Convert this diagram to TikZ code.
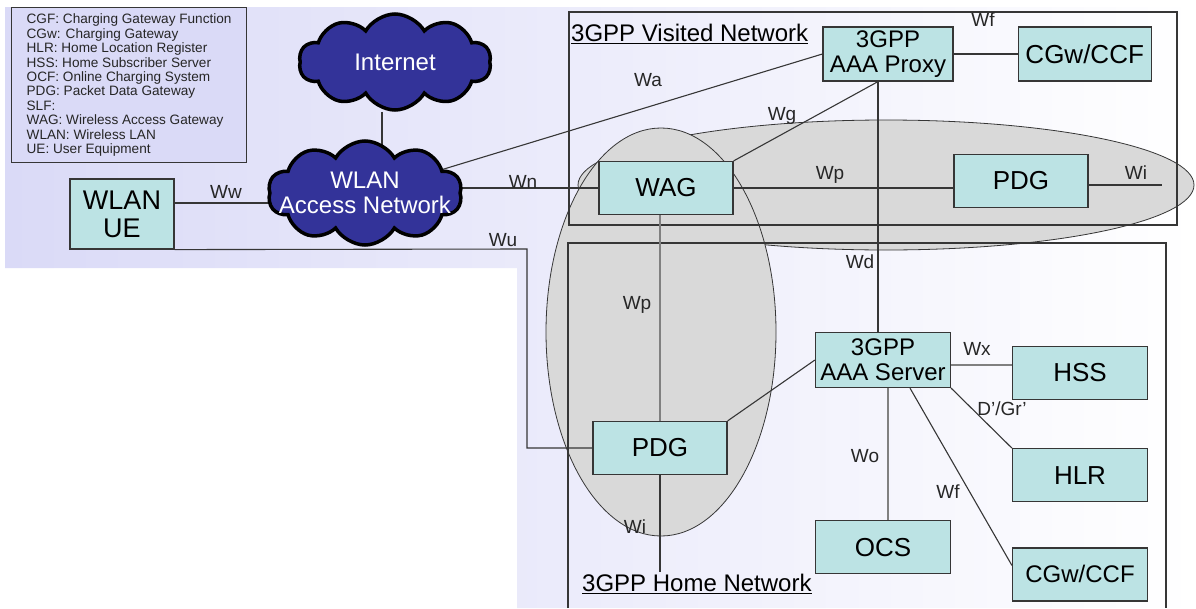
\documentclass[tikz,border=0pt]{standalone}
\usepackage{fontspec}
\setmainfont{Liberation Sans}
\usetikzlibrary{backgrounds,positioning,shapes.symbols}
\definecolor{netInk}{HTML}{363636}
\definecolor{netBox}{HTML}{BCE3E4}
\definecolor{netCloud}{HTML}{333399}
\definecolor{netZone}{HTML}{D9D9D9}
\definecolor{netLav}{HTML}{DADAF7}

\begin{document}
\begin{tikzpicture}[x=1pt, y=-1pt,
  unit/.style={draw=netInk, line width=1.2pt, fill=netBox, inner sep=0pt, align=center, minimum width=134pt, minimum height=53pt, font=\fontsize{26}{28}\selectfont},
  twoline/.style={unit, font=\fontsize{24}{25}\selectfont},
  net/.style={cloud, cloud puffs=10, cloud puff arc=120, cloud ignores aspect, draw=black, line width=3.5pt, fill=netCloud, inner sep=0pt, minimum width=192pt, minimum height=96pt},
  nettext/.style={text=white, align=center, inner sep=0pt, font=\fontsize{24}{25}\selectfont},
  legend/.style={draw=netInk, line width=1.2pt, fill=netLav, anchor=north west, align=left, minimum width=235pt, minimum height=155pt, text=black!85, font=\fontsize{13.6}{14.4}\selectfont},
  link/.style={draw=netInk, line width=1.1pt},
  soft/.style={draw=black!50, line width=1.1pt},
  iface/.style={font=\fontsize{19}{20}\selectfont, text=black!85, inner sep=0pt},
  zone/.style={fill=netZone, draw=netInk, line width=0.8pt},
  netarea/.style={draw=netInk, line width=1.1pt},
  arealabel/.style={font=\fontsize{24}{26}\selectfont, anchor=west, inner sep=0pt}
]
  \useasboundingbox (0,0) rectangle (1196,608);

  % legend and access side
  \node[legend] (legend) at (11,7) {CGF: Charging Gateway Function\\CGw: Charging Gateway\\HLR: Home Location Register\\HSS: Home Subscriber Server\\OCF: Online Charging System\\PDG: Packet Data Gateway\\SLF:\\WAG: Wireless Access Gateway\\WLAN: Wireless LAN\\UE: User Equipment};
  \node[net] (internet) at (395,62) {};
  \node[nettext] (internettext) at (internet) {Internet};
  \node[net, minimum width=194pt, minimum height=104pt] (wlanan) at (365,193) {};
  \node[nettext] (wlanantext) at (wlanan) {WLAN\\Access Network};
  \node[unit, minimum width=104pt, minimum height=70pt, font=\fontsize{27}{28}\selectfont] (ue) at (122,214) {WLAN\\UE};

  % visited network
  \node[arealabel] (vlabel) at (571,34) {\underline{3GPP Visited Network}};
  \node[unit] (wag) at (666,188) {WAG};
  \node[unit] (pdgv) at (1021,181) {PDG};
  \node[twoline, minimum width=130pt, minimum height=54pt] (aaap) at (888,54) {3GPP\\AAA Proxy};
  \node[unit, minimum width=133pt, minimum height=54pt, right=64pt of aaap] (cgwv) {CGw/CCF};

  % home network
  \node[arealabel] (hlabel) at (582,584) {\underline{3GPP Home Network}};
  \node[unit] (pdgh) at (660,448) {PDG};
  \node[twoline, minimum width=135pt, minimum height=55pt] (aaas) at (883,360) {3GPP\\AAA Server};
  \node[unit, minimum width=135pt] (hss) at (1080,373) {HSS};
  \node[unit, minimum width=135pt, below=48pt of hss] (hlr) {HLR};
  \node[twoline, minimum width=135pt, minimum height=53pt, below=45pt of hlr] (cgwh) {CGw/CCF};
  \node[unit, minimum width=135pt, below=132pt of aaas] (ocs) {OCS};

  \coordinate (inetfoot) at ([xshift=-13pt]internet.south);
  \coordinate (uetap) at ([yshift=11pt]ue.east);
  \coordinate (wucorner) at (527,249);
  \coordinate (wiend) at (1162,185);
  \coordinate (aaapfoot) at ([xshift=-10pt]aaap.south);
  \coordinate (wihome) at (660,572);
  \coordinate (wxtap) at ([yshift=-5pt]aaas.east);
  \coordinate (wotap) at ([xshift=5pt]aaas.south);

  \begin{scope}[on background layer]
    \shade[left color=netLav, right color=white] (5,7) -- (1196,7) -- (1196,608) -- (517,608) -- (517,268) -- (5,268) -- cycle;
    \draw[zone] (886,185) ellipse[x radius=308pt, y radius=65pt];
    \draw[zone] (661,332) ellipse[x radius=115pt, y radius=204pt];
    \draw[netarea] (569,12) rectangle (1177,225);
    \draw[netarea] (568,608) -- (568,243) -- (1166,243) -- (1166,608);

    \draw[link] (inetfoot) -- (inetfoot |- wlanan.center);
    \draw[link] (uetap) -- (uetap -| wlanan.center);
    \draw[link] (ue.south east) -- (wucorner) |- (pdgh.center);
    \draw[link] (wlanan.center |- wag.center) -- (wag.center);
    \draw[link] (wlanan.center) -- (aaap.west);
    \draw[link] (wag.center) -- (wag.center -| pdgv.center);
    \draw[link] (wiend -| pdgv.center) -- (wiend);
    \draw[link] (wag.north east) -- (aaapfoot);
    \draw[link] (aaapfoot) -- (aaapfoot |- aaas.center);
    \draw[link] (aaap.center) -- (cgwv.center);
    \draw[soft] (pdgh.center |- wag.center) -- (pdgh.center);
    \draw[link] (pdgh.center) -- (wihome);
    \draw[link] (aaas.west) -- (pdgh.north east);
    \draw[soft] (wxtap) -- (wxtap -| hss.center);
    \draw[link] (aaas.south east) -- (hlr.north west);
    \draw[soft] (wotap) -- (wotap |- ocs.center);
    \draw[link] ([xshift=27pt]aaas.south) -- ([yshift=9pt]cgwh.west);
  \end{scope}

  % interface names
  \node[iface] (lww) at (226,192) {Ww};
  \node[iface] (lwn) at (523,182) {Wn};
  \node[iface] (lwa) at (648,80) {Wa};
  \node[iface] (lwu) at (503,240) {Wu};
  \node[iface] (lwg) at (782,116) {Wg};
  \node[iface] (lwpv) at (830,175) {Wp};
  \node[iface] (lwfv) at (983,20) {Wf};
  \node[iface] (lwiv) at (1136,173) {Wi};
  \node[iface] (lwd) at (860,262) {Wd};
  \node[iface] (lwph) at (637,305) {Wp};
  \node[iface] (lwih) at (635,527) {Wi};
  \node[iface] (lwx) at (977,349) {Wx};
  \node[iface] (ldgr) at (1002,409) {D'/Gr'};
  \node[iface] (lwo) at (865,456) {Wo};
  \node[iface] (lwfh) at (948,492) {Wf};
\end{tikzpicture}
\end{document}
